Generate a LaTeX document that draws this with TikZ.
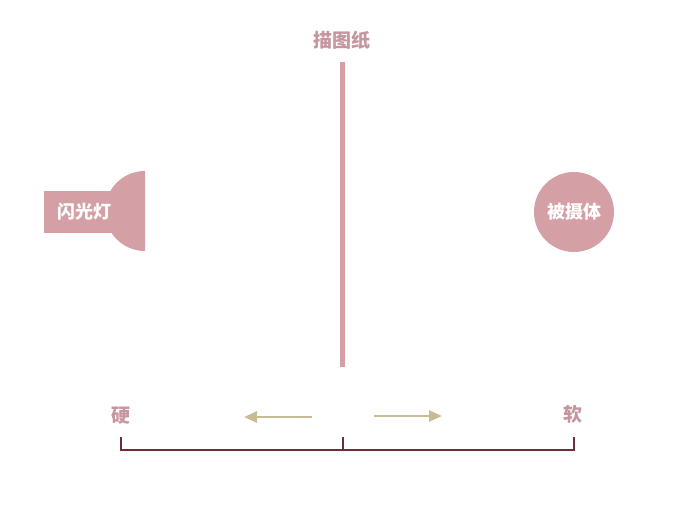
\documentclass[tikz,border=0pt]{standalone}
\usepackage{fontspec}
\setmainfont{Noto Sans CJK SC}
\usetikzlibrary{arrows.meta}
\definecolor{rosefill}{RGB}{212,160,165}
\definecolor{rosetext}{RGB}{198,150,158}
\definecolor{khaki}{RGB}{200,188,148}
\definecolor{maroon}{RGB}{110,45,58}

\begin{document}
\begin{tikzpicture}[x=1pt, y=-1pt, thick,
	label node/.style={font=\fontsize{19}{19}\selectfont\bfseries, text=rosetext},
	light node/.style={fill=rosefill, text=white, font=\fontsize{18}{18}\selectfont\bfseries, inner sep=0pt},
	shift arrow/.style={-{Triangle[length=13pt, width=11pt]}, draw=khaki, line width=2.5pt},
	scale bar/.style={draw=maroon, line width=1.6pt}]
	\useasboundingbox (0,0) rectangle (673,510);
	\node[label node] (paper) at (342,40) {描图纸};
	\coordinate (P1) at (342,62);
	\coordinate (P2) at (342,367);
	\draw[draw=rosefill, line width=5pt] (P1) -- (P2);
	\fill[rosefill] (145,171) arc[start angle=270, end angle=90, radius=40] -- cycle;
	\node[light node, minimum width=80pt, minimum height=42pt, anchor=west] (flash) at (44,212) {闪光灯};
	\node[light node, circle, minimum size=80pt] (subject) at (574,212) {被摄体};
	\node[label node] (hard) at (121,416) {硬};
	\node[label node] (soft) at (573,414) {软};
	\coordinate (L1) at (312,417);
	\coordinate (L2) at (244,417);
	\coordinate (R1) at (374,416);
	\coordinate (R2) at (442,416);
	\draw[shift arrow] (L1) -- (L2);
	\draw[shift arrow] (R1) -- (R2);
	\coordinate (B1) at (121,437);
	\coordinate (B2) at (574,437);
	\coordinate (BM) at (343,437);
	\draw[scale bar] (B1) -- (B1 |- 0,450) -- (B2 |- 0,450) -- (B2);
	\draw[scale bar] (BM) -- (BM |- 0,450);
\end{tikzpicture}
\end{document}
